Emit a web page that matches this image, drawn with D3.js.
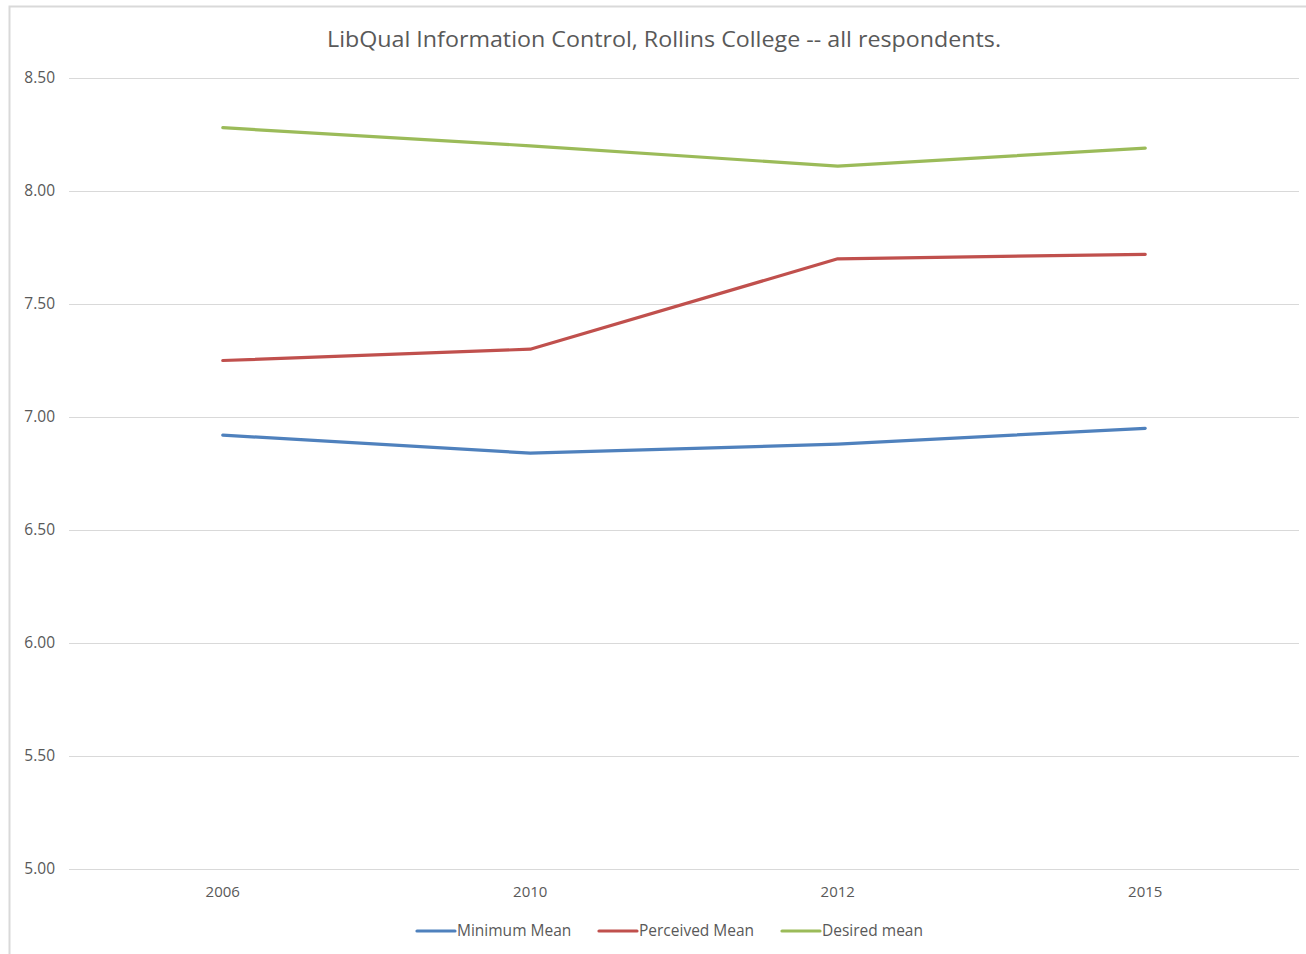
<!DOCTYPE html>
<html><head><meta charset="utf-8">
<script src="https://cdn.jsdelivr.net/npm/d3@7"></script>
<style>html,body{margin:0;padding:0;background:#fff;} svg{display:block;}</style>
</head><body>
<svg id="c" width="1306" height="954"></svg>
<script>
const categories = ["2006", "2010", "2012", "2015"];
const minimumMean = [6.92, 6.84, 6.88, 6.95];
const perceivedMean = [7.25, 7.30, 7.70, 7.72];
const desiredMean = [8.28, 8.20, 8.11, 8.19];
const seriesNames = ["Minimum Mean", "Perceived Mean", "Desired mean"];
const seriesColors = ["#4f81bd", "#c0504d", "#9bbb59"];
const yTicks = [5.0, 5.5, 6.0, 6.5, 7.0, 7.5, 8.0, 8.5];
const titleText = "LibQual Information Control, Rollins College -- all respondents.";

(function () {
const series = [minimumMean, perceivedMean, desiredMean];
const font = "'Open Sans', 'Noto Sans', sans-serif";
const svg = d3.select("#c");

// chart border
svg.append("rect").attr("x", 9.5).attr("y", 6.5).attr("width", 1310).attr("height", 960)
  .attr("fill", "#fff").attr("stroke", "#d9d9d9").attr("stroke-width", 2);

const pLeft = 69, pRight = 1299, pTop = 78, pBottom = 869;
const x = d3.scaleBand().domain(categories).range([pLeft, pRight]);
const y = d3.scaleLinear().domain([5, 8.5]).range([pBottom, pTop]);

// gridlines
svg.append("g").selectAll("line").data(yTicks).join("line")
  .attr("x1", pLeft).attr("x2", pRight)
  .attr("y1", d => Math.round(y(d)) + 0.5).attr("y2", d => Math.round(y(d)) + 0.5)
  .attr("stroke", "#d9d9d9").attr("stroke-width", 1);

// y labels
svg.append("g").selectAll("text").data(yTicks).join("text")
  .attr("x", 55).attr("y", d => y(d)).attr("dy", "0.35em")
  .attr("text-anchor", "end").attr("font-family", font).attr("font-size", 15.5)
  .attr("fill", "#595959").text(d => d.toFixed(2));

// x labels
svg.append("g").selectAll("text").data(categories).join("text")
  .attr("x", d => x(d) + x.bandwidth() / 2).attr("y", 897)
  .attr("text-anchor", "middle").attr("font-family", font).attr("font-size", 15)
  .attr("fill", "#595959").text(d => d);

// lines
const line = d3.line().x((d, i) => x(categories[i]) + x.bandwidth() / 2).y(d => y(d));
svg.append("g").selectAll("path").data(series).join("path")
  .attr("d", d => line(d)).attr("fill", "none")
  .attr("stroke", (d, i) => seriesColors[i]).attr("stroke-width", 3.2)
  .attr("stroke-linecap", "round").attr("stroke-linejoin", "round");

// title
svg.append("text").attr("x", 664).attr("y", 47).attr("text-anchor", "middle")
  .attr("font-family", font).attr("font-size", 22).attr("fill", "#595959")
  .attr("textLength", 674).attr("lengthAdjust", "spacingAndGlyphs")
  .text(titleText);

// legend
const legX = [417, 599, 782];
const lg = svg.append("g").selectAll("g").data(seriesNames).join("g")
  .attr("transform", (d, i) => `translate(${legX[i]},931)`);
lg.append("line").attr("x1", 0).attr("x2", 38).attr("y1", 0).attr("y2", 0)
  .attr("stroke", (d, i) => seriesColors[i]).attr("stroke-width", 3.2).attr("stroke-linecap", "round");
lg.append("text").attr("x", 40).attr("y", 0).attr("dy", "0.35em")
  .attr("font-family", font).attr("font-size", 15.5).attr("fill", "#595959").text(d => d);
})();
</script>
</body></html>
